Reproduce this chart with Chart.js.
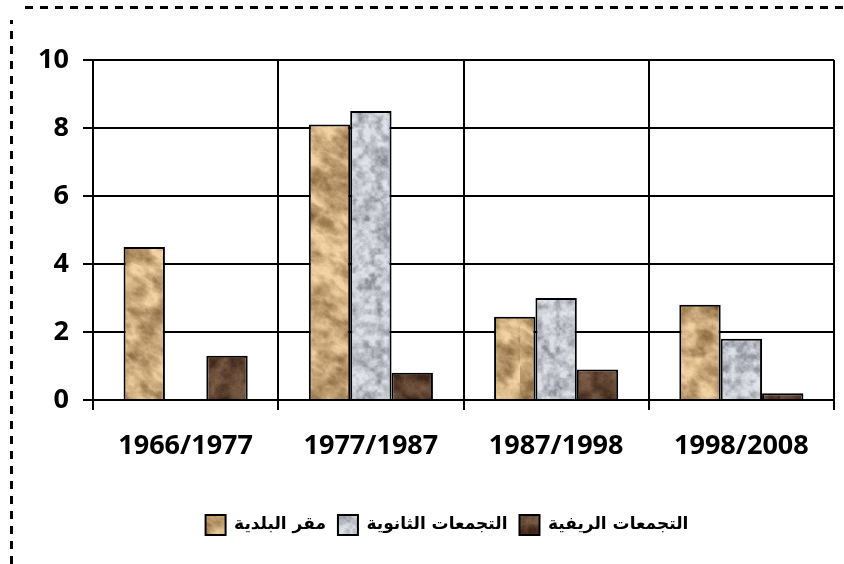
<!DOCTYPE html>
<html><head><meta charset="utf-8">
<script src="https://cdn.jsdelivr.net/npm/chart.js@4/dist/chart.umd.min.js"></script>
<style>html,body{margin:0;padding:0;background:#fff}#wrap{width:844px;height:564px;position:relative}</style>
</head><body><div id="wrap"><canvas id="c" width="844" height="564"></canvas></div>
<script>
const categories = ['1966/1977', '1977/1987', '1987/1998', '1998/2008'];
const seriesNames = ['مقر البلدية', 'التجمعات الثانوية', 'التجمعات الريفية'];
const seatValues = [4.5, 8.1, 2.45, 2.8];
const secondaryValues = [null, 8.5, 3.0, 1.8];
const ruralValues = [1.3, 0.8, 0.9, 0.2];
const yTicks = [0, 2, 4, 6, 8, 10];

function hash(ix, iy, seed){
  let h = (ix * 374761393 + iy * 668265263 + seed * 982451653) | 0;
  h = Math.imul(h ^ (h >>> 13), 1274126177);
  h = h ^ (h >>> 16);
  return (h >>> 0) / 4294967296;
}
function vnoise(x, y, seed){
  const x0 = Math.floor(x), y0 = Math.floor(y);
  const tx = x - x0, ty = y - y0;
  const sx = tx*tx*(3-2*tx), sy = ty*ty*(3-2*ty);
  const a = hash(x0,y0,seed), b = hash(x0+1,y0,seed), c = hash(x0,y0+1,seed), d = hash(x0+1,y0+1,seed);
  return (a*(1-sx)+b*sx)*(1-sy) + (c*(1-sx)+d*sx)*sy;
}
function fbm(x, y, seed, oct){
  let s=0, amp=1, tot=0, f=1;
  for(let o=0;o<oct;o++){ s += amp*vnoise(x*f, y*f, seed+o*17); tot+=amp; amp*=0.5; f*=2; }
  return s/tot;
}
function clamp(v){return v<0?0:v>1?1:v;}
function mix(a,b,t){return [a[0]+(b[0]-a[0])*t, a[1]+(b[1]-a[1])*t, a[2]+(b[2]-a[2])*t];}
function makePattern(kind){
  const w = 260, h = 420;
  const cv=document.createElement('canvas'); cv.width=w; cv.height=h;
  const cx=cv.getContext('2d'); const img=cx.createImageData(w,h);
  for(let y=0;y<h;y++) for(let x=0;x<w;x++){
    let col;
    if(kind==='tan'){
      const u = x*0.05 + y*0.035, v = -x*0.035 + y*0.055;
      const n = fbm(u, v, 5, 4);
      const r = 1 - Math.abs(fbm(u*0.9+7, v*1.6+3, 9, 3)*2-1);
      let t = clamp((n-0.2)/0.55);
      t = clamp(t*0.7 + r*0.5 - 0.14);
      col = mix([104,68,30],[242,210,162], Math.pow(t,0.85));
    } else if(kind==='gray'){
      const n = fbm(x*0.16, y*0.16, 31, 3);
      const m = fbm(x*0.05, y*0.05, 47, 2);
      let t = clamp((n-0.22)/0.5)*0.8 + m*0.25;
      t = clamp(t);
      col = mix([122,124,136],[226,228,235], Math.pow(t,0.65));
    } else {
      const n = fbm(x*0.08, y*0.08, 61, 4);
      let t = clamp((n-0.3)/0.45);
      col = mix([62,38,24],[122,92,70], t);
    }
    const i=(y*w+x)*4; const jit=(hash(x,y,99)-0.5)*8;
    img.data[i]=Math.max(0,Math.min(255,col[0]+jit));
    img.data[i+1]=Math.max(0,Math.min(255,col[1]+jit));
    img.data[i+2]=Math.max(0,Math.min(255,col[2]+jit));
    img.data[i+3]=255;
  }
  cx.putImageData(img,0,0);
  return document.getElementById('c').getContext('2d').createPattern(cv,'repeat');
}
const tanP = makePattern('tan'), grayP = makePattern('gray'), darkP = makePattern('dark');

const borderPlugin = {
  id:'frame',
  beforeDraw(chart){
    const ctx=chart.ctx; ctx.save();
    ctx.fillStyle='#fff'; ctx.fillRect(0,0,chart.width,chart.height);
    ctx.strokeStyle='#000'; ctx.lineWidth=3; ctx.setLineDash([8,7]);
    ctx.beginPath(); ctx.moveTo(11.5,564); ctx.lineTo(11.5,20); ctx.stroke();
    ctx.beginPath(); ctx.moveTo(25,7.5); ctx.lineTo(844,7.5); ctx.stroke();
    ctx.restore();
  },
  afterLayout(chart){
    const lg = chart.legend;
    if(lg){ lg.left += 30; lg.right += 30; }
  }
};

const tickFont = {family:'"Open Sans", "Liberation Sans", sans-serif', weight:'bold', size:27};
new Chart(document.getElementById('c'), {
  type:'bar',
  data:{
    labels: categories,
    datasets:[
      {label:seriesNames[0], data:seatValues, backgroundColor:tanP, borderColor:'#000', borderWidth:2},
      {label:seriesNames[1], data:secondaryValues, backgroundColor:grayP, borderColor:'#000', borderWidth:2},
      {label:seriesNames[2], data:ruralValues, backgroundColor:darkP, borderColor:'#000', borderWidth:2}
    ]
  },
  options:{
    responsive:false, animation:false,
    datasets:{bar:{categoryPercentage:0.67, barPercentage:1.0}},
    layout:{padding:{top:60, right:10, left:0, bottom:19}},
    plugins:{
      legend:{position:'bottom', labels:{font:{family:'"DejaVu Sans", sans-serif', weight:'bold', size:17}, color:'#000', boxWidth:20, boxHeight:20, padding:12}},
      tooltip:{enabled:false}
    },
    scales:{
      x:{
        grid:{color:'#000', lineWidth:2, offset:true, tickLength:10, drawTicks:true},
        border:{color:'#000', width:2},
        ticks:{font:tickFont, color:'#000', padding:20},
        afterFit(s){ s.height = 103; }
      },
      y:{
        min:0, max:10,
        afterBuildTicks(s){ s.ticks = yTicks.map(v=>({value:v})); },
        grid:{color:'#000', lineWidth:2, tickLength:10},
        border:{color:'#000', width:2},
        ticks:{font:tickFont, color:'#000', padding:14},
        afterFit(s){ s.width = 93; }
      }
    }
  },
  plugins:[borderPlugin]
});
</script></body></html>
